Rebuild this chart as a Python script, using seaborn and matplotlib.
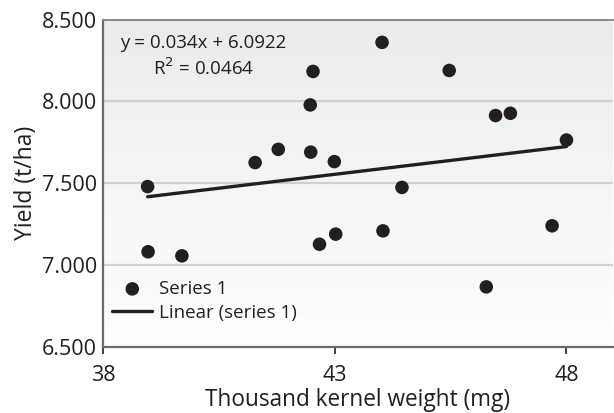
import numpy as np
import pandas as pd
import matplotlib.pyplot as plt
import seaborn as sns

# Dados
kernel_weight = [38.96, 38.97, 39.70, 41.28, 41.78, 42.48, 42.53, 42.47, 42.99, 44.02,
                 45.47, 46.47, 46.79, 48.00, 44.45, 42.67, 43.02, 44.04, 47.69, 46.27]
yield_t_ha = [7.479, 7.080, 7.055, 7.626, 7.707, 7.690, 8.184, 7.979, 7.632, 8.362,
              8.190, 7.914, 7.928, 7.764, 7.474, 7.126, 7.188, 7.208, 7.239, 6.865]
slope = 0.034
intercept = 6.0922
r2 = 0.0464

df = pd.DataFrame({"x": kernel_weight, "y": yield_t_ha})

sns.set_style("white")
plt.rcParams["font.family"] = ["Open Sans", "DejaVu Sans"]
ink = "#231f20"

fig = plt.figure(figsize=(6.14, 4.13), dpi=100)
ax = fig.add_axes([0.168, 0.161, 0.830, 0.791])

# fundo em degradê (cinza em cima, branco embaixo)
grad = np.linspace(0, 1, 256).reshape(-1, 1)
ax.imshow(grad, extent=[38, 49, 6.5, 8.5], aspect="auto", origin="upper",
          cmap=sns.blend_palette(["#eaebed", "#ffffff"], as_cmap=True), zorder=0)

for yv in [7.0, 7.5, 8.0]:
    ax.axhline(yv, color="#d0d0d0", lw=1.6, zorder=1)

sns.scatterplot(data=df, x="x", y="y", color=ink, s=95, edgecolor="none",
                label="Series 1", ax=ax, zorder=3)

# linha de tendência (equação do gráfico)
xl = np.array([df["x"].min(), df["x"].max()])
sns.lineplot(x=xl, y=slope * xl + intercept, color=ink, lw=2.4,
             label="Linear (series 1)", ax=ax, zorder=2)

ax.set_xlim(38, 49)
ax.set_ylim(6.5, 8.5)
ax.set_xticks([38, 43, 48])
ax.set_yticks([6.5, 7.0, 7.5, 8.0, 8.5])
ax.set_yticklabels(["6.500", "7.000", "7.500", "8.000", "8.500"])
ax.tick_params(axis="x", labelsize=15.5, colors=ink, length=5, width=1.2,
               direction="out", bottom=True, pad=8)
ax.tick_params(axis="y", labelsize=15.5, colors=ink, length=0, left=False, pad=4.3)
ax.set_xlabel("Thousand kernel weight (mg)", fontsize=16.3, color=ink, labelpad=2)
ax.set_ylabel("Yield (t/ha)", fontsize=16.5, color=ink, labelpad=2.5)

for side in ["left", "bottom"]:
    ax.spines[side].set_color("#6b6b6b")
    ax.spines[side].set_linewidth(1.6)
ax.spines["top"].set_color("#8a8a8a")
ax.spines["top"].set_linewidth(1.4)
ax.spines["right"].set_visible(False)

ax.text(0.196, 0.93, "y = 0.034x + 6.0922", transform=ax.transAxes, ha="center",
        va="center", fontsize=13.5, color=ink)
ax.text(0.198, 0.853, f"R$^2$ = {r2}", transform=ax.transAxes, ha="center",
        va="center", fontsize=13.5, color=ink)

leg = ax.legend(loc="lower left", frameon=False, fontsize=13.5, handlelength=2.13,
                handletextpad=0.37, labelspacing=0.33, borderaxespad=0, borderpad=0,
                bbox_to_anchor=(0.018, 0.075))
for t in leg.get_texts():
    t.set_color(ink)

plt.savefig("out.png", dpi=100)
